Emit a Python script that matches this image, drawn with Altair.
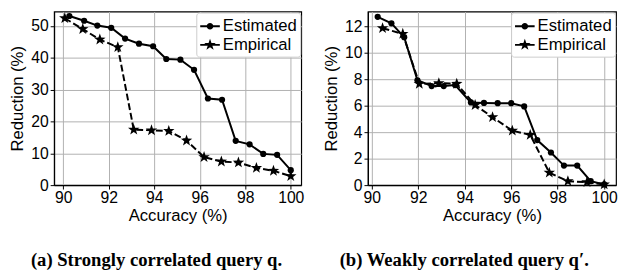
import math
import altair as alt
import pandas as pd

# ---- data ----
a_est_x = [90.27, 90.92, 91.5, 92.11, 92.72, 93.33, 93.95, 94.53, 95.15, 95.75, 96.36, 96.98, 97.58, 98.19, 98.79, 99.4, 100.0]
a_est_y = [53.1, 51.6, 50.1, 49.4, 46.0, 44.4, 43.6, 39.6, 39.4, 36.2, 27.2, 26.8, 13.9, 12.8, 9.8, 9.5, 4.7]
a_emp_x = [90.07, 90.86, 91.61, 92.4, 93.1, 93.88, 94.64, 95.42, 96.19, 96.95, 97.7, 98.49, 99.24, 100.0]
a_emp_y = [52.4, 49.0, 45.7, 43.3, 17.4, 17.2, 17.0, 14.0, 8.8, 7.4, 7.1, 5.4, 4.5, 2.8]

b_est_x = [90.26, 90.85, 91.4, 91.97, 92.58, 93.1, 93.59, 94.27, 94.83, 95.42, 96.0, 96.56, 97.12, 97.71, 98.27, 98.84, 99.42, 100.0]
b_est_y = [12.74, 12.25, 11.2, 7.94, 7.5, 7.5, 7.57, 6.26, 6.22, 6.2, 6.2, 5.96, 3.41, 2.47, 1.48, 1.48, 0.3, 0.05]
b_emp_x = [90.47, 91.34, 92.05, 92.89, 93.66, 94.45, 95.2, 96.05, 96.82, 97.64, 98.44, 99.26, 100.0]
b_emp_y = [11.88, 11.45, 7.67, 7.72, 7.67, 6.06, 5.14, 4.12, 3.8, 0.94, 0.3, 0.22, 0.05]

series = ["Estimated", "Empirical"]
x_ticks = [90, 92, 94, 96, 98, 100]
a_y_ticks = [0, 10, 20, 30, 40, 50]
b_y_ticks = [0, 2, 4, 6, 8, 10, 12]
captions = ["(a) Strongly correlated query q.", "(b) Weakly correlated query q\u2032."]

# ---- marker paths (unit square -1..1) ----
def star_path(R, r):
    pts = []
    for k in range(10):
        ang = math.radians(-90 + 36 * k)
        rad = R if k % 2 == 0 else r
        pts.append(f"{rad*math.cos(ang):.4f},{rad*math.sin(ang):.4f}")
    return "M" + "L".join(pts) + "Z"

BAR = "M-1,-0.1L1,-0.1L1,0.1L-1,0.1Z"
STAR = star_path(1.0, 0.40)
LEG_EST = BAR + "M-0.34,0A0.34,0.34,0,1,1,0.34,0A0.34,0.34,0,1,1,-0.34,0Z"
LEG_EMP = BAR + star_path(0.62, 0.25)

FONT = "Liberation Sans"


def panel(ex, ey, mx, my, xdom, ydom, yticks, width, height, caption, dx):
    df = pd.concat([
        pd.DataFrame({"x": ex, "y": ey, "series": "Estimated"}),
        pd.DataFrame({"x": mx, "y": my, "series": "Empirical"}),
    ])
    base = alt.Chart(df)
    xenc = alt.X("x:Q", scale=alt.Scale(domain=xdom, nice=False, zero=False),
                 axis=alt.Axis(values=x_ticks, title="Accuracy (%)", format="d"))
    yenc = alt.Y("y:Q", scale=alt.Scale(domain=ydom, nice=False, zero=False),
                 axis=alt.Axis(values=yticks, title="Reduction (%)", format="d"))
    est = base.transform_filter(alt.datum.series == "Estimated")
    emp = base.transform_filter(alt.datum.series == "Empirical")
    line_est = est.mark_line(color="black", strokeWidth=2, clip=True).encode(x=xenc, y=yenc)
    line_emp = emp.mark_line(color="black", strokeWidth=2, strokeDash=[7, 3], clip=True).encode(x=xenc, y=yenc)
    pt_est = est.mark_point(filled=True, color="black", size=40, opacity=1, shape="circle").encode(x=xenc, y=yenc)
    pt_emp = emp.mark_point(filled=True, color="black", size=150, opacity=1, shape=STAR).encode(x=xenc, y=yenc)
    leg = base.transform_filter("datum.x < 0").mark_point(
        filled=True, color="black", opacity=1
    ).encode(
        x=xenc, y=yenc,
        shape=alt.Shape("series:N", scale=alt.Scale(domain=series, range=[LEG_EST, LEG_EMP]),
                        legend=alt.Legend(title=None, orient="top-right", offset=1,
                                          symbolSize=400,
                                          symbolFillColor="black",
                                          labelFontSize=17, labelFont=FONT, labelColor="black",
                                          labelOffset=2, rowPadding=-1,
                                          strokeColor="#cccccc", fillColor="white",
                                          cornerRadius=3, padding=3)),
    )
    return alt.layer(line_est, line_emp, pt_est, pt_emp, leg).properties(
        width=width, height=height,
        title=alt.TitleParams(caption, orient="bottom", anchor="middle", frame="bounds",
                              font="Liberation Serif", fontSize=19, fontWeight="bold",
                              color="black", offset=28, dx=dx),
    )


left = panel(a_est_x, a_est_y, a_emp_x, a_emp_y, [89.6, 100.46], [0, 54.5], a_y_ticks, 252, 177, captions[0], 0)
right = panel(b_est_x, b_est_y, b_emp_x, b_emp_y, [89.84, 100.51], [0, 13.14], b_y_ticks, 253, 177, captions[1], -6)

chart = alt.hconcat(left, right, spacing=17).resolve_scale(
    shape="independent", x="independent", y="independent"
).resolve_legend(shape="independent").properties(
    padding={"left": 0, "top": 0, "right": 0, "bottom": 0}
).configure_view(stroke="black", strokeWidth=1.2).configure_axis(
    domainColor="black", domainWidth=1.2, tickColor="black", tickSize=4,
    gridColor="#b0b0b0", gridWidth=1,
    labelFont=FONT, labelFontSize=16, labelColor="black", labelPadding=2,
    titleFont=FONT, titleFontSize=17, titleFontWeight="normal", titleColor="black",
    titlePadding=4,
).configure_axisX(titlePadding=2, labelPadding=1)

chart.save("out.html", embed_options={"renderer": "svg", "actions": False})
